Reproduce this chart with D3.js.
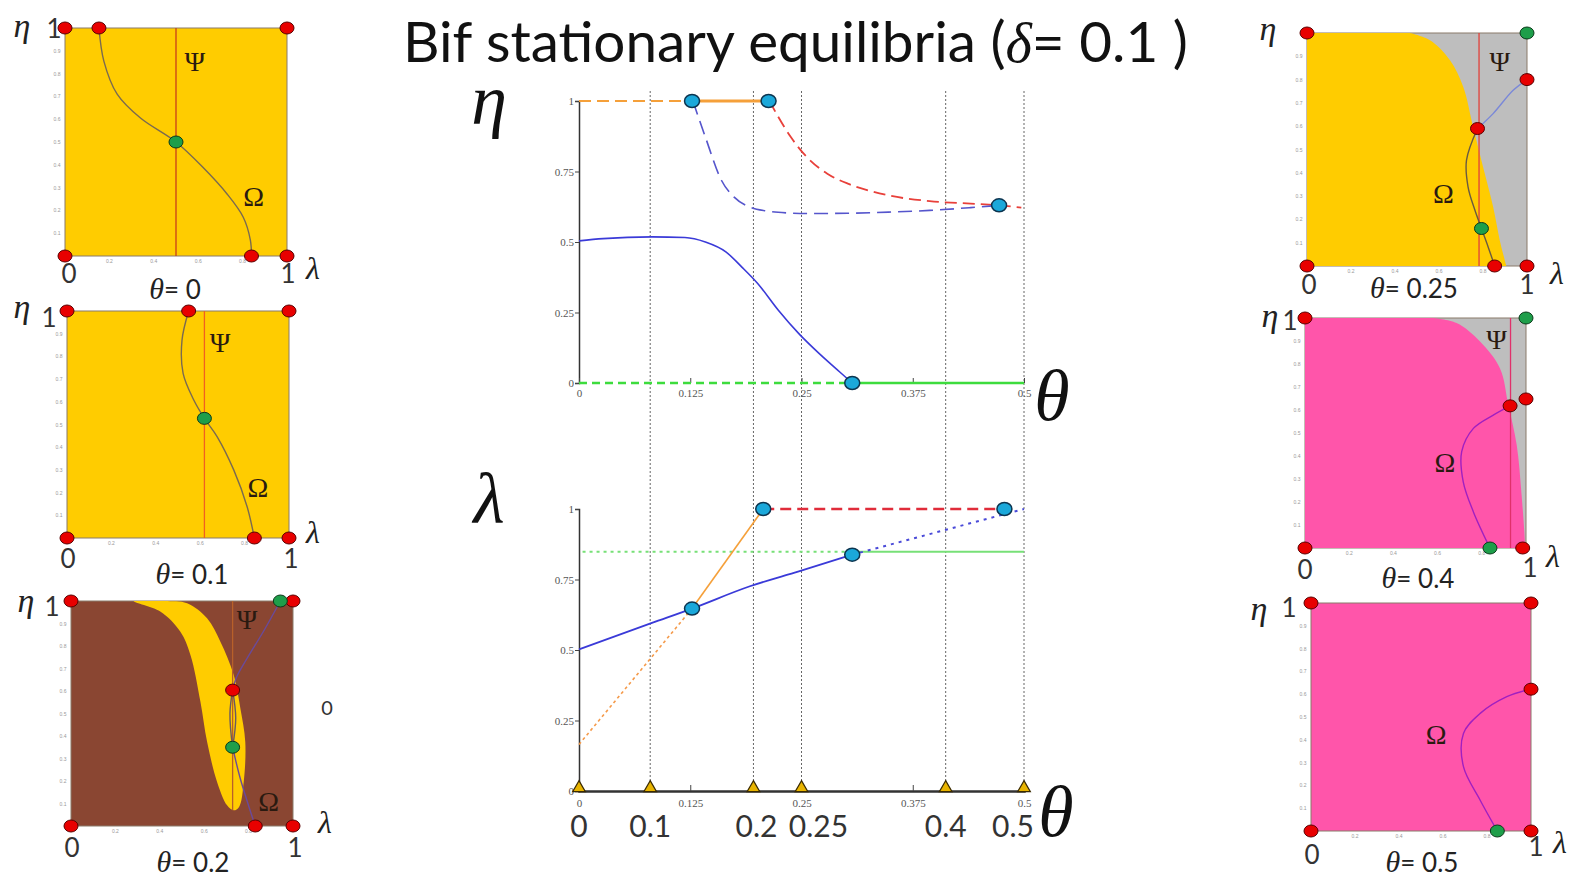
<!DOCTYPE html>
<html lang="en">
<head>
<meta charset="utf-8">
<title>Bif stationary equilibria</title>
<script src="https://cdn.jsdelivr.net/npm/d3@7"></script>
<style>
  body { margin: 0; background: #fff; }
  svg { display: block; }
  .math { font-family: "Liberation Serif", "DejaVu Serif", serif; font-style: italic; }
  .greek { font-family: "Liberation Serif", "DejaVu Serif", serif; }
  .sans { font-family: Lato, "Open Sans", sans-serif; }
</style>
</head>
<body>
<script>
// ---- centre diagram data (theta on the x axis) ----
var thetaTicks = [0, 0.125, 0.25, 0.375, 0.5];
var valueTicks = [0, 0.25, 0.5, 0.75, 1];
var markerTheta = [0, 0.08, 0.196, 0.25, 0.412, 0.5];
var markerLabels = ["0", "0.1", "0.2", "0.25", "0.4", "0.5"];

// eta branches
var etaOrangeDashed = [[0, 1], [0.127, 1]];
var etaOrangeSolid = [[0.127, 1], [0.213, 1]];
var etaBlueDashed = [[0.128, 1], [0.142, 0.872], [0.160, 0.719], [0.174, 0.660], [0.192, 0.624], [0.211, 0.61],
                     [0.234, 0.603], [0.256, 0.601], [0.302, 0.602], [0.348, 0.606], [0.394, 0.612], [0.440, 0.622], [0.472, 0.630]];
var etaRedDashed = [[0.214, 1], [0.224, 0.943], [0.238, 0.872], [0.256, 0.801], [0.279, 0.742], [0.302, 0.707],
                    [0.325, 0.683], [0.348, 0.665], [0.394, 0.645], [0.440, 0.636], [0.472, 0.630], [0.497, 0.622]];
var etaBlueSolid = [[0, 0.504], [0.027, 0.512], [0.082, 0.518], [0.119, 0.516], [0.142, 0.5], [0.165, 0.465],
                    [0.183, 0.411], [0.201, 0.352], [0.224, 0.258], [0.247, 0.175], [0.270, 0.104], [0.293, 0.039], [0.307, 0]];
var etaGreenDashed = [[0, 0], [0.307, 0]];
var etaGreenSolid = [[0.307, 0], [0.5, 0]];
var etaPoints = [[0.127, 1], [0.213, 1], [0.307, 0], [0.472, 0.63]];

// lambda branches
var lamBlueSolid = [[0, 0.502], [0.082, 0.596], [0.127, 0.647], [0.192, 0.726], [0.247, 0.779], [0.307, 0.838]];
var lamBlueDotted = [[0.307, 0.838], [0.5, 1]];
var lamRedDashed = [[0.207, 1], [0.478, 1]];
var lamOrangeDotted = [[0, 0.165], [0.127, 0.647]];
var lamOrangeSolid = [[0.127, 0.647], [0.207, 1]];
var lamGreenDotted = [[0.004, 0.848], [0.307, 0.848]];
var lamGreenSolid = [[0.307, 0.848], [0.5, 0.848]];
var lamPoints = [[0.127, 0.647], [0.207, 1], [0.307, 0.838], [0.478, 1]];

// ---- phase panels (lambda on x, eta on y) ----
var panelYTicks = [0.1, 0.2, 0.3, 0.4, 0.5, 0.6, 0.7, 0.8, 0.9];
var panelXTicks = [0.2, 0.4, 0.6, 0.8];
var panelThetas = ["0", "0.1", "0.2", "0.25", "0.4", "0.5"];

var p1Omega = [[[0.153, 1], [0.175, 0.855], [0.235, 0.71], [0.34, 0.605], [0.5, 0.5], [0.62, 0.39], [0.73, 0.272], [0.803, 0.17], [0.835, 0.07], [0.84, 0]]];
var p1Red = [[0, 1], [0.153, 1], [1, 1], [0, 0], [0.84, 0], [1, 0]];
var p1Green = [[0.5, 0.5]];
var p1Psi = 0.5;

var p2Omega = [[[0.548, 1], [0.518, 0.871], [0.523, 0.725], [0.571, 0.608], [0.619, 0.527], [0.676, 0.447], [0.751, 0.3], [0.811, 0.139], [0.844, 0]]];
var p2Red = [[0, 1], [0.548, 1], [1, 1], [0, 0], [0.844, 0], [1, 0]];
var p2Green = [[0.619, 0.527]];
var p2Psi = 0.619;

var p3Region = [[0.282, 1], [0.402, 0.953], [0.492, 0.864], [0.538, 0.760], [0.583, 0.552], [0.613, 0.374], [0.658, 0.196],
                [0.703, 0.092], [0.733, 0.07], [0.757, 0.085], [0.778, 0.196], [0.785, 0.374], [0.763, 0.522], [0.733, 0.671],
                [0.673, 0.819], [0.613, 0.923], [0.523, 0.99], [0.42, 1.0]];
var p3Omega = [[[0.943, 1], [0.87, 0.87], [0.79, 0.74], [0.745, 0.66], [0.728, 0.604]],
               [[0.728, 0.604], [0.716, 0.5], [0.728, 0.35]],
               [[0.728, 0.604], [0.742, 0.48], [0.728, 0.35]],
               [[0.728, 0.35], [0.76, 0.22], [0.80, 0.09], [0.83, 0]]];
var p3Red = [[0, 1], [1, 1], [0.728, 0.604], [0, 0], [0.83, 0], [1, 0]];
var p3Green = [[0.943, 1], [0.728, 0.35]];
var p3Psi = 0.728;

var p4Region = [[0.468, 1], [0.559, 0.969], [0.65, 0.883], [0.71, 0.769], [0.755, 0.597], [0.8, 0.426], [0.846, 0.254], [0.876, 0.111], [0.906, 0]];
var p4Omega = [[[1, 0.8], [0.937, 0.754], [0.846, 0.654], [0.775, 0.59]],
               [[0.775, 0.59], [0.725, 0.454], [0.732, 0.34], [0.763, 0.24], [0.793, 0.161], [0.823, 0.083], [0.853, 0]]];
var p4Red = [[0, 1], [1, 0.8], [0.775, 0.59], [0, 0], [0.853, 0], [1, 0]];
var p4Green = [[1, 1], [0.793, 0.161]];
var p4Psi = 0.782;

var p5Region = [[0.58, 1], [0.686, 0.978], [0.792, 0.898], [0.882, 0.782], [0.92, 0.622], [0.958, 0.448], [0.98, 0.23], [0.995, 0.026], [0.995, 0]];
var p5Omega = [[[0.928, 0.618], [0.852, 0.578], [0.762, 0.52], [0.709, 0.419], [0.716, 0.288], [0.762, 0.157], [0.837, 0]]];
var p5Red = [[0, 1], [1, 0.648], [0.928, 0.618], [0, 0], [0.985, 0]];
var p5Green = [[1, 1], [0.837, 0]];
var p5Psi = 0.93;

var p6Omega = [[[0.995, 0.622], [0.89, 0.589], [0.769, 0.516], [0.693, 0.428], [0.693, 0.282], [0.769, 0.135], [0.847, 0]]];
var p6Red = [[0, 1], [1, 1], [0, 0], [1, 0], [1, 0.622]];
var p6Green = [[0.847, 0]];

var W = 1579, H = 878;
var svg = d3.select("body").append("svg").attr("width", W).attr("height", H);

// ---------- title ----------
var title = svg.append("text").attr("class", "sans").attr("x", 403).attr("y", 62)
    .attr("font-size", 50).attr("fill", "#111");
title.append("tspan").text("Bif stationary equilibria (");
title.append("tspan").attr("class", "math").text("δ");
title.append("tspan").text("= 0.1 )");
var tw = title.node().getComputedTextLength();
title.attr("font-size", 50 * 785 / tw);

// ---------- centre diagrams ----------
var xC = d3.scaleLinear().domain([0, 0.5]).range([579, 1024]);
var yTop = d3.scaleLinear().domain([0, 1]).range([383, 101]);
var yBot = d3.scaleLinear().domain([0, 1]).range([791, 509]);

// dotted guides for the sampled theta values
svg.append("g").selectAll("line").data(markerTheta.slice(1)).enter().append("line")
    .attr("x1", function(d) { return xC(d); }).attr("x2", function(d) { return xC(d); })
    .attr("y1", 91).attr("y2", 791)
    .attr("stroke", "#666").attr("stroke-width", 1).attr("stroke-dasharray", "2,2");

function styleAxis(g) {
    g.attr("font-family", "\"Liberation Serif\", serif").attr("font-size", 11);
    g.selectAll("text").attr("fill", "#555");
    g.selectAll("line").attr("stroke", "#444");
}

// top (eta) axes
svg.append("g").attr("transform", "translate(" + xC(0) + ",0)")
    .call(d3.axisLeft(yTop).tickValues(valueTicks).tickSize(4).tickPadding(1).tickFormat(d3.format("~g")))
    .call(styleAxis)
    .call(function(g) { g.select(".domain").attr("stroke", "#333").attr("stroke-width", 1.5); });
svg.append("g").attr("transform", "translate(0," + yTop(0) + ")")
    .call(d3.axisBottom(xC).tickValues(thetaTicks).tickSize(-5).tickPadding(6).tickFormat(d3.format("~g")))
    .call(styleAxis)
    .call(function(g) { g.select(".domain").remove(); });

// bottom (lambda) axes
svg.append("g").attr("transform", "translate(" + xC(0) + ",0)")
    .call(d3.axisLeft(yBot).tickValues(valueTicks).tickSize(4).tickPadding(1).tickFormat(d3.format("~g")))
    .call(styleAxis)
    .call(function(g) { g.select(".domain").attr("stroke", "#333").attr("stroke-width", 1.5); });
svg.append("g").attr("transform", "translate(0," + yBot(0) + ")")
    .call(d3.axisBottom(xC).tickValues(thetaTicks).tickSize(-6).tickPadding(8).tickFormat(d3.format("~g")))
    .call(styleAxis)
    .call(function(g) { g.select(".domain").attr("stroke", "#333").attr("stroke-width", 2.5); });

function branch(data, yScale, color, width, dash) {
    var line = d3.line().x(function(d) { return xC(d[0]); }).y(function(d) { return yScale(d[1]); })
        .curve(d3.curveMonotoneX);
    svg.append("path").datum(data).attr("d", line).attr("fill", "none")
        .attr("stroke", color).attr("stroke-width", width)
        .attr("stroke-dasharray", dash || null);
}

branch(etaGreenDashed, yTop, "#3ddc3d", 2.5, "8,5");
branch(etaGreenSolid, yTop, "#3ddc3d", 2.5);
branch(etaOrangeDashed, yTop, "#f5a03a", 2.2, "12,6");
branch(etaOrangeSolid, yTop, "#f5a03a", 2.8);
branch(etaRedDashed, yTop, "#e8403a", 1.8, "12,6");
branch(etaBlueDashed, yTop, "#5555cc", 1.6, "14,7");
branch(etaBlueSolid, yTop, "#3a3ad8", 1.6);

branch(lamGreenDotted, yBot, "#77e077", 2, "3,4");
branch(lamGreenSolid, yBot, "#77e077", 2);
branch(lamOrangeDotted, yBot, "#f59a4a", 1.6, "3,3");
branch(lamOrangeSolid, yBot, "#f5a03a", 1.6);
branch(lamBlueSolid, yBot, "#3a3ad8", 1.8);
branch(lamBlueDotted, yBot, "#4a4ad8", 2, "3,5");
branch(lamRedDashed, yBot, "#e02c3a", 2.5, "11,6");

function bifPoints(data, yScale) {
    svg.append("g").selectAll("ellipse").data(data).enter().append("ellipse")
        .attr("cx", function(d) { return xC(d[0]); }).attr("cy", function(d) { return yScale(d[1]); })
        .attr("rx", 7.5).attr("ry", 6.5)
        .attr("fill", "#1ba8da").attr("stroke", "#0c3550").attr("stroke-width", 1.5);
}
bifPoints(etaPoints, yTop);
bifPoints(lamPoints, yBot);

// triangles marking the sampled theta values
svg.append("g").selectAll("path").data(markerTheta).enter().append("path")
    .attr("d", d3.symbol(d3.symbolTriangle).size(70))
    .attr("transform", function(d) { return "translate(" + xC(d) + "," + (yBot(0) - 3) + ")"; })
    .attr("fill", "#e8b400").attr("stroke", "#3a2a00").attr("stroke-width", 1.2);

var markerDx = [0, 0, 3, 17, 0, -11];
svg.append("g").selectAll("text").data(markerLabels).enter().append("text")
    .attr("class", "sans")
    .attr("x", function(d, i) { return xC(markerTheta[i]) + markerDx[i]; })
    .attr("y", 837).attr("text-anchor", "middle").attr("font-size", 30).attr("fill", "#333")
    .text(function(d) { return d; });

function bigSymbol(t, x, y) {
    svg.append("text").attr("class", "math").attr("x", x).attr("y", y)
        .attr("text-anchor", "middle").attr("font-size", 72).attr("fill", "#111").text(t);
}
bigSymbol("η", 489, 124);
bigSymbol("λ", 489, 523);
bigSymbol("θ", 1052, 420);
bigSymbol("θ", 1056, 836);

// ---------- phase panels ----------
var panelLayout = [
    {box: [65, 28, 287, 256],    eta: [22, 37],    one: [54, 38],   zero: [69, 283],   oneB: [288, 283],  lam: [313, 279],  theta: [175, 299],  psi: [0.585, 0.85],  omega: [0.85, 0.26]},
    {box: [67, 311, 289, 538],   eta: [22, 318],   one: [49, 327],  zero: [68, 568],   oneB: [291, 568],  lam: [313, 543],  theta: [192, 584],  psi: [0.69, 0.86],   omega: [0.86, 0.22]},
    {box: [71, 601, 293, 826],   eta: [26, 612],   one: [52, 616],  zero: [72, 857],   oneB: [295, 857],  lam: [325, 833],  theta: [193, 872],  psi: [0.793, 0.915], omega: [0.89, 0.107]},
    {box: [1307, 33, 1527, 266], eta: [1268, 40],  one: null,       zero: [1309, 294], oneB: [1527, 294], lam: [1557, 284], theta: [1414, 298], psi: [0.876, 0.876], omega: [0.62, 0.31]},
    {box: [1305, 318, 1526, 548], eta: [1270, 327], one: [1290, 330], zero: [1305, 579], oneB: [1530, 577], lam: [1553, 567], theta: [1418, 588], psi: [0.867, 0.906], omega: [0.633, 0.368]},
    {box: [1311, 603, 1531, 831], eta: [1259, 620], one: [1289, 617], zero: [1312, 864], oneB: [1536, 856], lam: [1560, 853], theta: [1422, 872], psi: null,          omega: [0.569, 0.421]}
];

var YELLOW = "#ffcc00", BROWN = "#8a4632", GREY = "#bebebe", PINK = "#ff55aa";
var panels = [
    {bg: YELLOW, omega: p1Omega, red: p1Red, green: p1Green, psi: p1Psi, psiColor: "#c8401a", omegaColor: ["#7a6a50"]},
    {bg: YELLOW, omega: p2Omega, red: p2Red, green: p2Green, psi: p2Psi, psiColor: "#f06020", omegaColor: ["#7a6a50"]},
    {bg: BROWN, region: p3Region, regionColor: YELLOW, closed: true, omega: p3Omega, red: p3Red, green: p3Green,
     psi: p3Psi, psiFrom: 0.07, psiColor: "#b8602a", omegaColor: ["#6a4a9a", "#6a5a60", "#6a5a60", "#6a4a9a"]},
    {bg: GREY, region: p4Region, regionColor: YELLOW, omega: p4Omega, red: p4Red, green: p4Green,
     psi: p4Psi, psiColor: "#e0403a", omegaColor: ["#7a88d8", "#6a5a40"]},
    {bg: GREY, region: p5Region, regionColor: PINK, omega: p5Omega, red: p5Red, green: p5Green,
     psi: p5Psi, psiColor: "#e0306a", omegaColor: ["#a020c0"]},
    {bg: PINK, omega: p6Omega, red: p6Red, green: p6Green, psi: null, omegaColor: ["#a020c0"]}
];

function drawPanel(p, L, idx) {
    var x = d3.scaleLinear().domain([0, 1]).range([L.box[0], L.box[2]]);
    var y = d3.scaleLinear().domain([0, 1]).range([L.box[3], L.box[1]]);
    var g = svg.append("g");
    var clipId = "clip" + idx;
    g.append("clipPath").attr("id", clipId).append("rect")
        .attr("x", L.box[0]).attr("y", L.box[1])
        .attr("width", L.box[2] - L.box[0]).attr("height", L.box[3] - L.box[1]);

    g.append("rect").attr("x", L.box[0]).attr("y", L.box[1])
        .attr("width", L.box[2] - L.box[0]).attr("height", L.box[3] - L.box[1])
        .attr("fill", p.bg).attr("stroke", "#8a7a6a").attr("stroke-width", 1);

    if (p.region) {
        var d;
        if (p.closed) {
            d = d3.line().x(function(v) { return x(v[0]); }).y(function(v) { return y(v[1]); })
                .curve(d3.curveCatmullRomClosed)(p.region);
        } else {
            d = d3.line().x(function(v) { return x(v[0]); }).y(function(v) { return y(v[1]); })
                .curve(d3.curveCatmullRom)(p.region);
            d += "L" + x(0) + "," + y(0) + "L" + x(0) + "," + y(1) + "Z";
        }
        g.append("path").attr("d", d).attr("fill", p.regionColor).attr("clip-path", "url(#" + clipId + ")");
    }

    if (p.psi != null) {
        g.append("line").attr("x1", x(p.psi)).attr("x2", x(p.psi))
            .attr("y1", y(p.psiFrom || 0)).attr("y2", y(1))
            .attr("stroke", p.psiColor).attr("stroke-width", 1.3);
    }

    var curve = d3.line().x(function(v) { return x(v[0]); }).y(function(v) { return y(v[1]); })
        .curve(d3.curveCatmullRom);
    p.omega.forEach(function(seg, i) {
        g.append("path").datum(seg).attr("d", curve).attr("fill", "none")
            .attr("stroke", p.omegaColor[i] || p.omegaColor[0]).attr("stroke-width", 1.4);
    });

    // tiny tick labels
    g.append("g").selectAll("text").data(panelYTicks).enter().append("text")
        .attr("x", x(0) - 8).attr("y", function(v) { return y(v) + 2; })
        .attr("text-anchor", "middle").attr("font-size", 5).attr("fill", "#999")
        .attr("font-family", "sans-serif").text(function(v) { return v; });
    g.append("g").selectAll("text").data(panelXTicks).enter().append("text")
        .attr("x", function(v) { return x(v); }).attr("y", y(0) + 7)
        .attr("text-anchor", "middle").attr("font-size", 5).attr("fill", "#999")
        .attr("font-family", "sans-serif").text(function(v) { return v; });

    g.append("g").selectAll("ellipse").data(p.red).enter().append("ellipse")
        .attr("cx", function(v) { return x(v[0]); }).attr("cy", function(v) { return y(v[1]); })
        .attr("rx", 7).attr("ry", 6).attr("fill", "#e80000").attr("stroke", "#5a0000").attr("stroke-width", 1);
    g.append("g").selectAll("ellipse").data(p.green).enter().append("ellipse")
        .attr("cx", function(v) { return x(v[0]); }).attr("cy", function(v) { return y(v[1]); })
        .attr("rx", 7).attr("ry", 6).attr("fill", "#1e9e4a").attr("stroke", "#0a3a1a").attr("stroke-width", 1);

    // labels
    if (L.psi) {
        g.append("text").attr("class", "greek").attr("x", x(L.psi[0])).attr("y", y(L.psi[1]) + 9)
            .attr("text-anchor", "middle").attr("font-size", 28).attr("fill", "#2a1a10").text("Ψ");
    }
    g.append("text").attr("class", "greek").attr("x", x(L.omega[0])).attr("y", y(L.omega[1]) + 9)
        .attr("text-anchor", "middle").attr("font-size", 28).attr("fill", "#2a1a10").text("Ω");

    g.append("text").attr("class", "math").attr("x", L.eta[0]).attr("y", L.eta[1])
        .attr("text-anchor", "middle").attr("font-size", 34).attr("fill", "#222").text("η");
    if (L.one) {
        g.append("text").attr("class", "sans").attr("x", L.one[0]).attr("y", L.one[1])
            .attr("text-anchor", "middle").attr("font-size", 26).attr("fill", "#333").text("1");
    }
    g.append("text").attr("class", "sans").attr("x", L.zero[0]).attr("y", L.zero[1])
        .attr("text-anchor", "middle").attr("font-size", 26).attr("fill", "#333").text("0");
    g.append("text").attr("class", "sans").attr("x", L.oneB[0]).attr("y", L.oneB[1])
        .attr("text-anchor", "middle").attr("font-size", 26).attr("fill", "#333").text("1");
    g.append("text").attr("class", "math").attr("x", L.lam[0]).attr("y", L.lam[1])
        .attr("text-anchor", "middle").attr("font-size", 32).attr("fill", "#222").text("λ");

    var th = g.append("text").attr("x", L.theta[0]).attr("y", L.theta[1])
        .attr("text-anchor", "middle").attr("fill", "#222");
    th.append("tspan").attr("class", "math").attr("font-size", 30).text("θ");
    th.append("tspan").attr("class", "sans").attr("font-size", 26).text("= " + panelThetas[idx]);
}

panels.forEach(function(p, i) { drawPanel(p, panelLayout[i], i); });

// stray label beside the third panel
svg.append("text").attr("class", "sans").attr("x", 327).attr("y", 715)
    .attr("text-anchor", "middle").attr("font-size", 20).attr("fill", "#333").text("0");
</script>
</body>
</html>
